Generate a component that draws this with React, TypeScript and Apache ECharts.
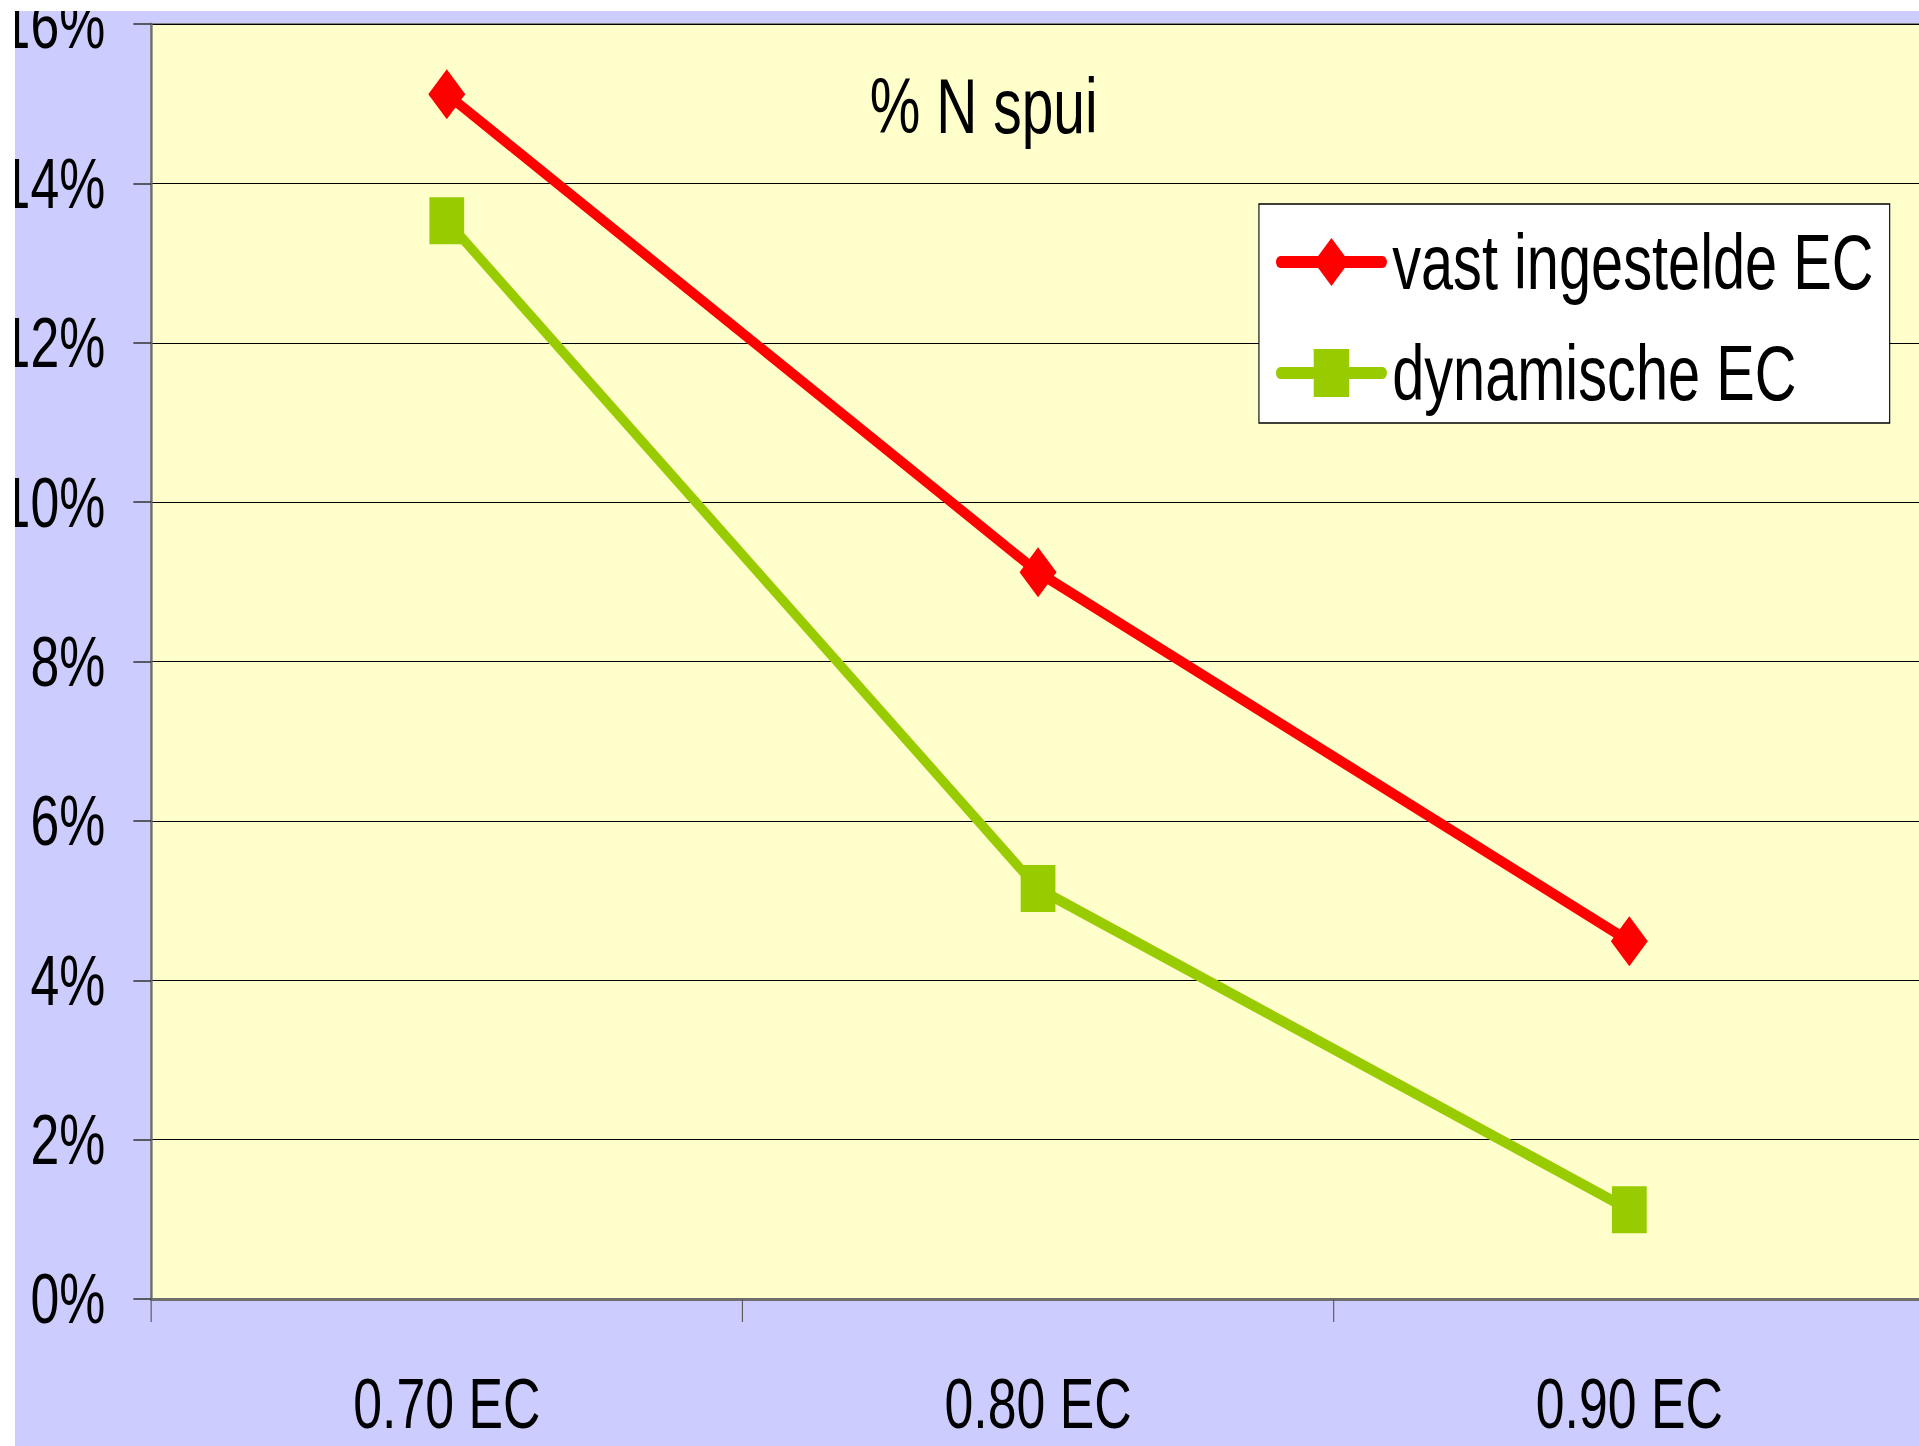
import React, { useEffect, useRef } from "react";
import * as echarts from "echarts";

const categories = ["0.70 EC", "0.80 EC", "0.90 EC"];
const vastValues = [15.12, 9.12, 4.49];
const dynValues = [13.53, 5.15, 1.12];
const seriesNames = ["vast ingestelde EC", "dynamische EC"];
const titleText = "% N spui";
const yMin = 0;
const yMax = 16;
const yInterval = 2;

const SX = 0.74;
const FONT = "'Liberation Sans', Arial, Helvetica, sans-serif";

export default function App() {
  const ref = useRef<HTMLDivElement>(null);

  useEffect(() => {
    if (!ref.current) return;
    const chart = echarts.init(ref.current, undefined, { renderer: "svg" });
    chart.setOption({
      animation: false,
      backgroundColor: "#CCCCFF",
      title: {
        text: titleText,
        left: 1155,
        top: 57,
        padding: 0,
        textStyle: {
          fontFamily: FONT,
          fontSize: 77,
          fontWeight: "normal",
          color: "#000",
          lineHeight: 77,
        },
      },
      legend: {
        orient: "vertical",
        left: 1681,
        top: 193,
        padding: [18, 22, 10, 23],
        itemGap: 31,
        itemWidth: 138,
        itemHeight: 60,
        backgroundColor: "#FFFFFF",
        borderColor: "#000",
        borderWidth: 1.5,
        borderRadius: 0,
        lineStyle: { width: 12, cap: "round" },
        textStyle: {
          fontFamily: FONT,
          fontSize: 78,
          color: "#000",
          lineHeight: 80,
          padding: [0, 0, 0, 8],
        },
        data: seriesNames,
      },
      grid: {
        left: 184,
        top: 13,
        width: 2397,
        height: 1275,
        show: true,
        backgroundColor: "#FFFFCC",
        borderColor: "#808080",
        borderWidth: 2,
        containLabel: false,
        outerBoundsMode: "none",
      },
      xAxis: {
        type: "category",
        data: categories,
        boundaryGap: true,
        axisLine: { show: true, lineStyle: { color: "#6e6e6e", width: 3 } },
        axisTick: { show: true, length: 23, lineStyle: { color: "#555", width: 1.5 } },
        axisLabel: {
          margin: 70,
          fontFamily: FONT,
          fontSize: 70,
          lineHeight: 70,
          color: "#000",
        },
        splitLine: { show: false },
      },
      yAxis: {
        type: "value",
        min: yMin,
        max: yMax,
        interval: yInterval,
        axisLine: { show: true, lineStyle: { color: "#6e6e6e", width: 3 } },
        axisTick: { show: true, length: 24, lineStyle: { color: "#333", width: 1.5 } },
        axisLabel: {
          margin: 62,
          fontFamily: FONT,
          fontSize: 70,
          color: "#000",
          formatter: "{value}%",
        },
        splitLine: { show: true, lineStyle: { color: "#000", width: 1.2 } },
      },
      series: [
        {
          name: seriesNames[0],
          type: "line",
          data: vastValues,
          symbol: "diamond",
          symbolSize: 50,
          lineStyle: { color: "#FF0000", width: 11 },
          itemStyle: { color: "#FF0000" },
          z: 3,
        },
        {
          name: seriesNames[1],
          type: "line",
          data: dynValues,
          symbol: "rect",
          symbolSize: 47,
          lineStyle: { color: "#99CC00", width: 11 },
          itemStyle: { color: "#99CC00" },
          z: 2,
        },
      ],
    });
    return () => chart.dispose();
  }, []);

  return (
    <div
      style={{
        position: "absolute",
        left: 0,
        top: 0,
        width: 1919,
        height: 1446,
        overflow: "hidden",
        background: "#FFFFFF",
      }}
    >
      <div
        ref={ref}
        style={{
          position: "absolute",
          left: 15,
          top: 11,
          width: Math.round((1919 - 15) / SX),
          height: 1446 - 11,
          transform: `scaleX(${SX})`,
          transformOrigin: "0 0",
        }}
      />
    </div>
  );
}
